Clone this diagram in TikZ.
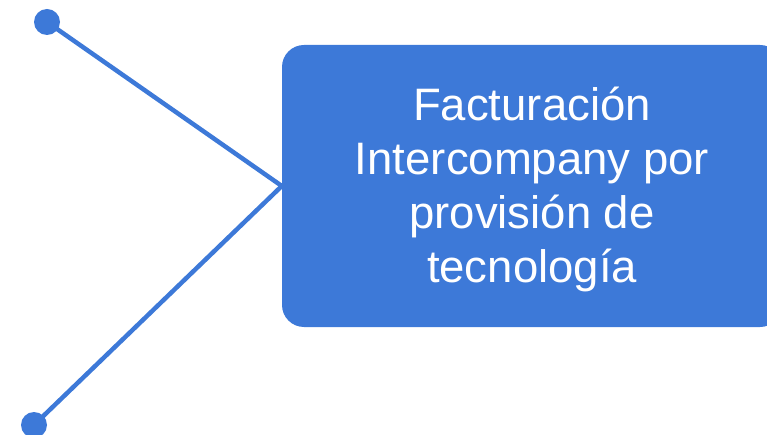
\documentclass[tikz,border=0pt]{standalone}
\usepackage{fontspec}
\setmainfont{Liberation Sans}
\usetikzlibrary{positioning}
\usetikzlibrary{calc}
\definecolor{boxblue}{RGB}{61,121,216}

\begin{document}
\begin{tikzpicture}[x=1pt, y=-1pt, text centered,
        endpoint/.style={circle, fill=boxblue, minimum size=26pt, inner sep=0pt},
        link/.style={draw=boxblue, line width=4.5pt}]
        \useasboundingbox (0,0) rectangle (767,435);

        \node[fill=boxblue, rounded corners=22pt, minimum width=500pt, minimum height=282pt] (fact) at (532,186) {};
        \node[text=white, align=center, font=\fontsize{45.5}{54}\selectfont] (fact_text) at (532,189) {Facturación\\Intercompany por\\provisión de\\tecnología};

        \node[endpoint] (dot_1) at (47,22) {};
        \node[endpoint] (dot_2) at (34,425) {};

        \draw[link] (dot_1.center) -- (fact.west);
        \draw[link] (dot_2.center) -- (fact.west);
\end{tikzpicture}
\end{document}
